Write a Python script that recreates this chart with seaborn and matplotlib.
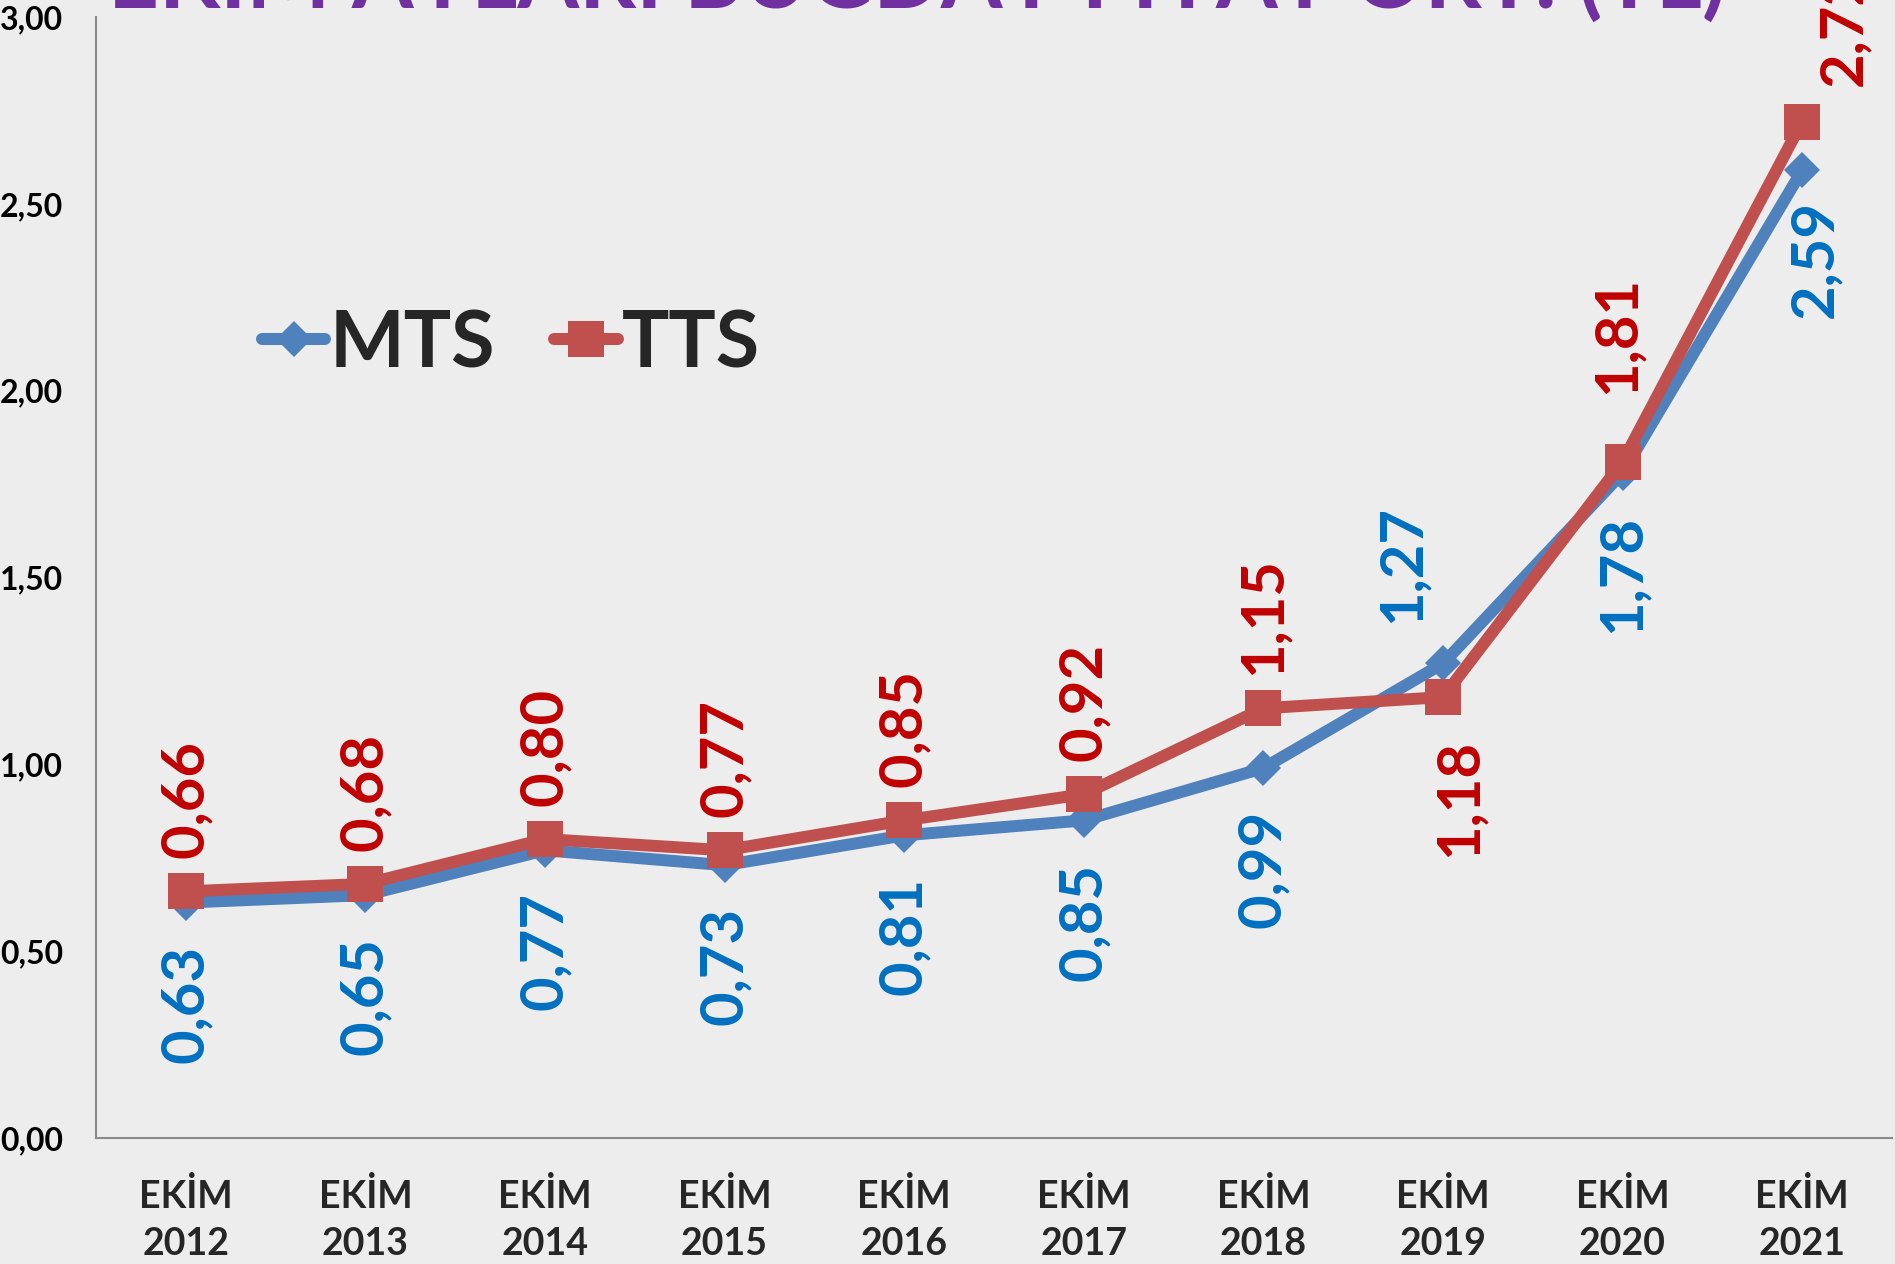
import numpy as np
import pandas as pd
import matplotlib
matplotlib.use("Agg")
import matplotlib.pyplot as plt
from matplotlib.ticker import FuncFormatter, FixedLocator
import seaborn as sns

# chart data
years = ["2012", "2013", "2014", "2015", "2016", "2017", "2018", "2019", "2020", "2021"]
mts = [0.63, 0.65, 0.77, 0.73, 0.81, 0.85, 0.99, 1.27, 1.78, 2.59]
tts = [0.66, 0.68, 0.80, 0.77, 0.85, 0.92, 1.15, 1.18, 1.81, 2.72]
title = "EKİM AYLARI BUĞDAY FİYAT ORT. (TL)"

# label placement offsets from the point, in pixels (dy > 0 means above)
mts_dx = [0, 0, 0, 0, 0, 0, 0, -40, 0, 13]
mts_dy = [-42, -42, -42, -42, -42, -42, -42, 40, -42, -30]
tts_dx = [0, 0, 0, 0, 0, 0, 0, 17, -5, 42]
tts_dy = [33, 33, 33, 33, 33, 33, 33, -42, 68, 36]

sns.set_style("white")
plt.rcParams["font.family"] = ["Lato", "DejaVu Sans"]
plt.rcParams["font.weight"] = "bold"

DPI = 100
W, H = 1895, 1264
px = 72.0 / DPI  # pixels -> points

fig = plt.figure(figsize=(W / DPI, H / DPI), dpi=DPI, facecolor="#ededed")
ax = fig.add_axes([96 / W, 1 - 1138 / H, (1892 - 96) / W, (1138 - 17) / H])
ax.set_facecolor("none")

df = pd.DataFrame({"pos": np.arange(len(years)), "MTS": mts, "TTS": tts})

blue, red = "#4f81bd", "#c0504d"
sns.lineplot(data=df, x="pos", y="MTS", ax=ax, color=blue, linewidth=12 * px,
             marker="D", markersize=25 * px, markeredgewidth=0, label="MTS", zorder=3)
sns.lineplot(data=df, x="pos", y="TTS", ax=ax, color=red, linewidth=12 * px,
             marker="s", markersize=36 * px, markeredgewidth=0, label="TTS", zorder=4)

ax.set_xlim(-0.5, len(years) - 0.5)
ax.set_ylim(0, 3)
ax.set_xlabel("")
ax.set_ylabel("")

for s in ["top", "right"]:
    ax.spines[s].set_visible(False)
for s in ["left", "bottom"]:
    ax.spines[s].set_color("#8a8a8a")
    ax.spines[s].set_linewidth(1.5)

ax.yaxis.set_major_locator(FixedLocator(np.arange(0, 3.01, 0.5)))
ax.yaxis.set_major_formatter(FuncFormatter(lambda v, p: f"{v:.2f}".replace(".", ",")))
ax.tick_params(axis="y", direction="out", length=11 * px, width=1.5, color="#8a8a8a",
               pad=22 * px, labelsize=23, labelcolor="black")

ax.set_xticks(np.arange(len(years)))
ax.set_xticklabels([f"EKİM\n{y}" for y in years], fontsize=27, fontweight="bold",
                   linespacing=1.45)
ax.set_xticks(np.arange(-0.5, len(years)), minor=True)
ax.tick_params(axis="x", which="major", length=0, pad=40 * px)
ax.tick_params(axis="x", which="minor", direction="out", length=14 * px, width=1.5,
               color="#8a8a8a")

for i in range(len(years)):
    ax.annotate(f"{mts[i]:.2f}".replace(".", ","), (i, mts[i]),
                xytext=(mts_dx[i] * px, mts_dy[i] * px),
                textcoords="offset points", rotation=90, ha="center",
                va="bottom" if mts_dy[i] > 0 else "top",
                color="#0070c0", fontsize=43, fontweight="bold", zorder=5)
    ax.annotate(f"{tts[i]:.2f}".replace(".", ","), (i, tts[i]),
                xytext=(tts_dx[i] * px, tts_dy[i] * px),
                textcoords="offset points", rotation=90, ha="center",
                va="bottom" if tts_dy[i] > 0 else "top",
                color="#c00000", fontsize=43, fontweight="bold", zorder=5,
                annotation_clip=False)

ax.legend(loc="center left", bbox_to_anchor=(262 / W, 1 - 345 / H),
          bbox_transform=fig.transFigure, ncol=2, frameon=False,
          handlelength=0.8, handletextpad=0.05, columnspacing=0.75,
          borderpad=0, borderaxespad=0, prop={"weight": "bold", "size": 57})

# the title sits mostly above the top edge, as in the reference
fig.text(108 / W, 1 - 8 / H, title, ha="left", va="baseline", color="#7030a0",
         fontsize=64, fontweight="bold")

fig.savefig("out.png", dpi=DPI, facecolor=fig.get_facecolor())
